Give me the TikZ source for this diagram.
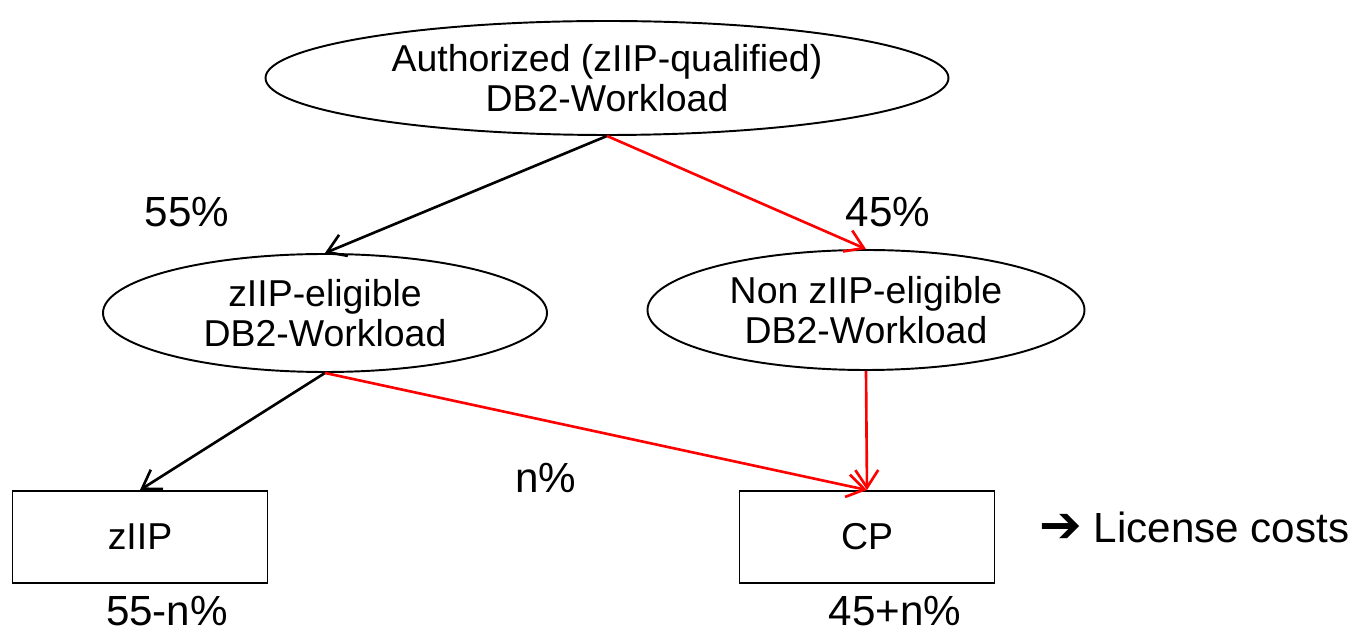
\documentclass[tikz,border=0pt]{standalone}
\usepackage{fontspec}
\setmainfont{Liberation Sans}
\newfontfamily\arrowfont{DejaVu Sans}
\usetikzlibrary{shapes.geometric, arrows.meta}
\tikzset{
    every node/.style={font=\fontsize{21.3}{23}\selectfont, align=center}, % text size of all nodes
    workload/.style={ellipse, draw, line width=1.1pt, inner sep=0pt}, % the three workload ellipses
    engine/.style={rectangle, draw, line width=1.1pt, minimum width=5.1cm, minimum height=1.84cm},
    share/.style={font=\fontsize{24}{26}\selectfont}, % the percentages
    flow/.style={->, line width=1.5pt}, % arrows between the nodes
    redflow/.style={flow, red},
    >={Straight Barb[length=10pt, width=13pt]}, % open arrow heads
}

\begin{document}
\begin{tikzpicture}
    \useasboundingbox (0,0) rectangle (27.12,12.7);
    \node[workload, minimum width=13.66cm, minimum height=2.28cm] (auth) at (12.14,11.14) {Authorized (zIIP-qualified)\\DB2-Workload};
    \node[workload, minimum width=8.88cm, minimum height=2.36cm] (elig) at (6.5,6.44) {zIIP-eligible\\DB2-Workload};
    \node[workload, minimum width=8.74cm, minimum height=2.4cm] (nonelig) at (17.32,6.5) {Non zIIP-eligible\\DB2-Workload};
    \node[engine] (ziip) at (2.8,1.96) {zIIP};
    \node[engine] (cp) at (17.34,1.96) {CP};
    \node[share, anchor=west, inner sep=0pt] (cost) at (20.78,2.16) {{\arrowfont\bfseries\fontsize{29}{29}\selectfont ➔} License costs};
    % percentages
    \node[share] (p55) at (3.74,8.46) {55\%};
    \node[share] (p45) at (17.76,8.46) {45\%};
    \node[share] (pn) at (10.92,3.14) {n\%};
    \node[share] (r55) at (3.34,0.47) {55-n\%};
    \node[share] (r45) at (17.9,0.47) {45+n\%};
    \draw[flow] (auth.south) -- (elig.north);
    \draw[redflow] (auth.south) -- (nonelig.north);
    \draw[flow] (elig.south) -- (ziip.north);
    \draw[redflow] (elig.south) -- (cp.north);
    \draw[redflow] (nonelig.south) -- (cp.north);
\end{tikzpicture}
\end{document}
